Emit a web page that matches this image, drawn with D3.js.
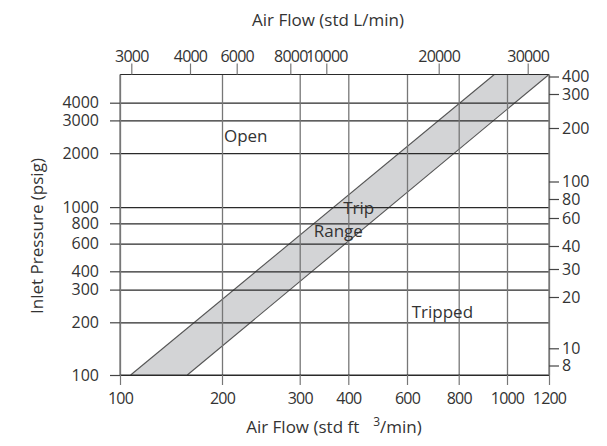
<!DOCTYPE html>
<html>
<head>
<meta charset="utf-8">
<script src="https://cdn.jsdelivr.net/npm/d3@7"></script>
<style>
  body { margin: 0; background: #fff; }
  svg text { font-family: "Open Sans", "Noto Sans", sans-serif; fill: #333; }
  .tick text { fill: #333; }
</style>
</head>
<body>
<div id="chart"></div>
<script>
// axis values
const flowCfm = [100, 200, 300, 400, 600, 800, 1000, 1200];
const flowLpm = [3000, 4000, 6000, 8000, 10000, 20000, 30000];
const pressurePsig = [100, 200, 300, 400, 600, 800, 1000, 2000, 3000, 4000];
const pressureBar = [8, 10, 20, 30, 40, 60, 80, 100, 200, 300, 400];
const psigTop = 6000;

// trip band corners [cfm, psig]
const bandUpperEdge = [[107.5, 100], [943, 6000]];
const bandLowerEdge = [[158, 100], [1200, 6000]];

// region labels [text, cfm, psig]
const regionLabels = [
  ["Open", 202, 2300],
  ["Trip", 388, 905],
  ["Range", 326, 660],
  ["Tripped", 616, 212]
];

const W = 607, H = 446;
const MARGIN = { TOP: 74.5, LEFT: 120, RIGHT: 58, BOTTOM: 71 };
const PW = W - MARGIN.LEFT - MARGIN.RIGHT;   // 429
const PH = H - MARGIN.TOP - MARGIN.BOTTOM;   // 300.5

// the printed chart is not a clean log grid, so the scales are piecewise
const xRange = [0, 102, 179.7, 228.3, 287, 338.7, 387, 429];
const x = d3.scaleLog().domain(flowCfm).range(xRange);

const xTopRange = [11.3, 70, 116.7, 170.3, 206.3, 318.7, 407.7];
const xTop = d3.scaleLog().domain(flowLpm).range(xTopRange);

const yRange = [300.5, 247.8, 215.1, 196.8, 169.1, 148.8, 132.6, 78.7, 45.9, 28.2, 0];
const y = d3.scaleLog().domain(pressurePsig.concat([psigTop])).range(yRange);

const yRightRange = [291, 273.8, 222.5, 194.5, 171.5, 143.5, 124.5, 107, 53.5, 19.5, 2];
const yRight = d3.scaleLog().domain(pressureBar).range(yRightRange);

const svg = d3.select("#chart")
  .append("svg")
    .attr("width", W)
    .attr("height", H)
  .append("g")
    .attr("transform", `translate(${MARGIN.LEFT}, ${MARGIN.TOP})`);

// trip band
const band = bandUpperEdge.concat(bandLowerEdge.slice().reverse());
svg.append("path")
  .attr("d", d3.line().x(d => x(d[0])).y(d => y(d[1]))(band) + "Z")
  .attr("fill", "#d3d4d6")
  .attr("stroke", "none");

[bandUpperEdge, bandLowerEdge].forEach(edge => {
  svg.append("path")
    .attr("d", d3.line().x(d => x(d[0])).y(d => y(d[1]))(edge))
    .attr("fill", "none")
    .attr("stroke", "#555")
    .attr("stroke-width", 1.1);
});

// grid lines
const hGrid = svg.append("g")
  .call(d3.axisLeft(y).tickValues(pressurePsig).tickSize(-PW).tickFormat(""));
hGrid.select(".domain").remove();
hGrid.selectAll("line").attr("stroke", "#2a2a2a").attr("stroke-width", 1.2);

const vGrid = svg.append("g")
  .attr("transform", `translate(0, ${PH})`)
  .call(d3.axisBottom(x).tickValues(flowCfm).tickSize(-PH).tickFormat(""));
vGrid.select(".domain").remove();
vGrid.selectAll("line").attr("stroke", "#777").attr("stroke-width", 1.3);

// frame
svg.append("line").attr("x1", 0).attr("x2", PW).attr("y1", 0).attr("y2", 0)
  .attr("stroke", "#2a2a2a").attr("stroke-width", 1.2);
svg.append("line").attr("x1", 0).attr("x2", PW).attr("y1", PH).attr("y2", PH)
  .attr("stroke", "#2a2a2a").attr("stroke-width", 1.2);
svg.append("line").attr("x1", 0).attr("x2", 0).attr("y1", 0).attr("y2", PH)
  .attr("stroke", "#777").attr("stroke-width", 1.3);
svg.append("line").attr("x1", PW).attr("x2", PW).attr("y1", 0).attr("y2", PH)
  .attr("stroke", "#777").attr("stroke-width", 1.3);

// axes
function styleAxis(g, color, fontSize, spacing) {
  g.select(".domain").remove();
  g.selectAll("line").attr("stroke", color).attr("stroke-width", 1.2);
  g.selectAll("text")
    .attr("font-size", fontSize)
    .attr("letter-spacing", spacing)
    .attr("font-family", null);
}

const bottomAxis = svg.append("g")
  .attr("transform", `translate(0, ${PH})`)
  .call(d3.axisBottom(x).tickValues(flowCfm).tickSize(10).tickPadding(8).tickFormat(d3.format("d")));
styleAxis(bottomAxis, "#777", 16, -0.8);

const topAxis = svg.append("g")
  .call(d3.axisTop(xTop).tickValues(flowLpm).tickSize(11).tickPadding(2).tickFormat(d3.format("d")));
styleAxis(topAxis, "#777", 16, -0.8);

const leftAxis = svg.append("g")
  .call(d3.axisLeft(y).tickValues(pressurePsig).tickSize(10).tickPadding(11).tickFormat(d3.format("d")));
styleAxis(leftAxis, "#444", 16, 0);

const rightAxis = svg.append("g")
  .attr("transform", `translate(${PW}, 0)`)
  .call(d3.axisRight(yRight).tickValues(pressureBar).tickSize(10).tickPadding(3).tickFormat(d3.format("d")));
styleAxis(rightAxis, "#444", 16, 0);

// region labels
svg.selectAll(".region")
  .data(regionLabels)
  .enter()
  .append("text")
    .attr("class", "region")
    .attr("x", d => x(d[1]))
    .attr("y", d => y(d[2]))
    .attr("font-size", 17)
    .text(d => d[0]);

// axis titles
svg.append("text")
  .attr("x", 208)
  .attr("y", -48.5)
  .attr("text-anchor", "middle")
  .attr("font-size", 17)
  .text("Air Flow (std L/min)");

const bottomTitle = svg.append("text")
  .attr("x", 214)
  .attr("y", 358.5)
  .attr("text-anchor", "middle")
  .attr("font-size", 17);
bottomTitle.append("tspan").text("Air Flow (std ft");
bottomTitle.append("tspan").attr("dx", 14).attr("dy", -7).attr("font-size", 12).text("3");
bottomTitle.append("tspan").attr("dy", 7).text("/min)");

svg.append("text")
  .attr("transform", `translate(${37 - MARGIN.LEFT + 6}, ${236 - MARGIN.TOP}) rotate(-90)`)
  .attr("text-anchor", "middle")
  .attr("font-size", 17)
  .text("Inlet Pressure (psig)");
</script>
</body>
</html>
